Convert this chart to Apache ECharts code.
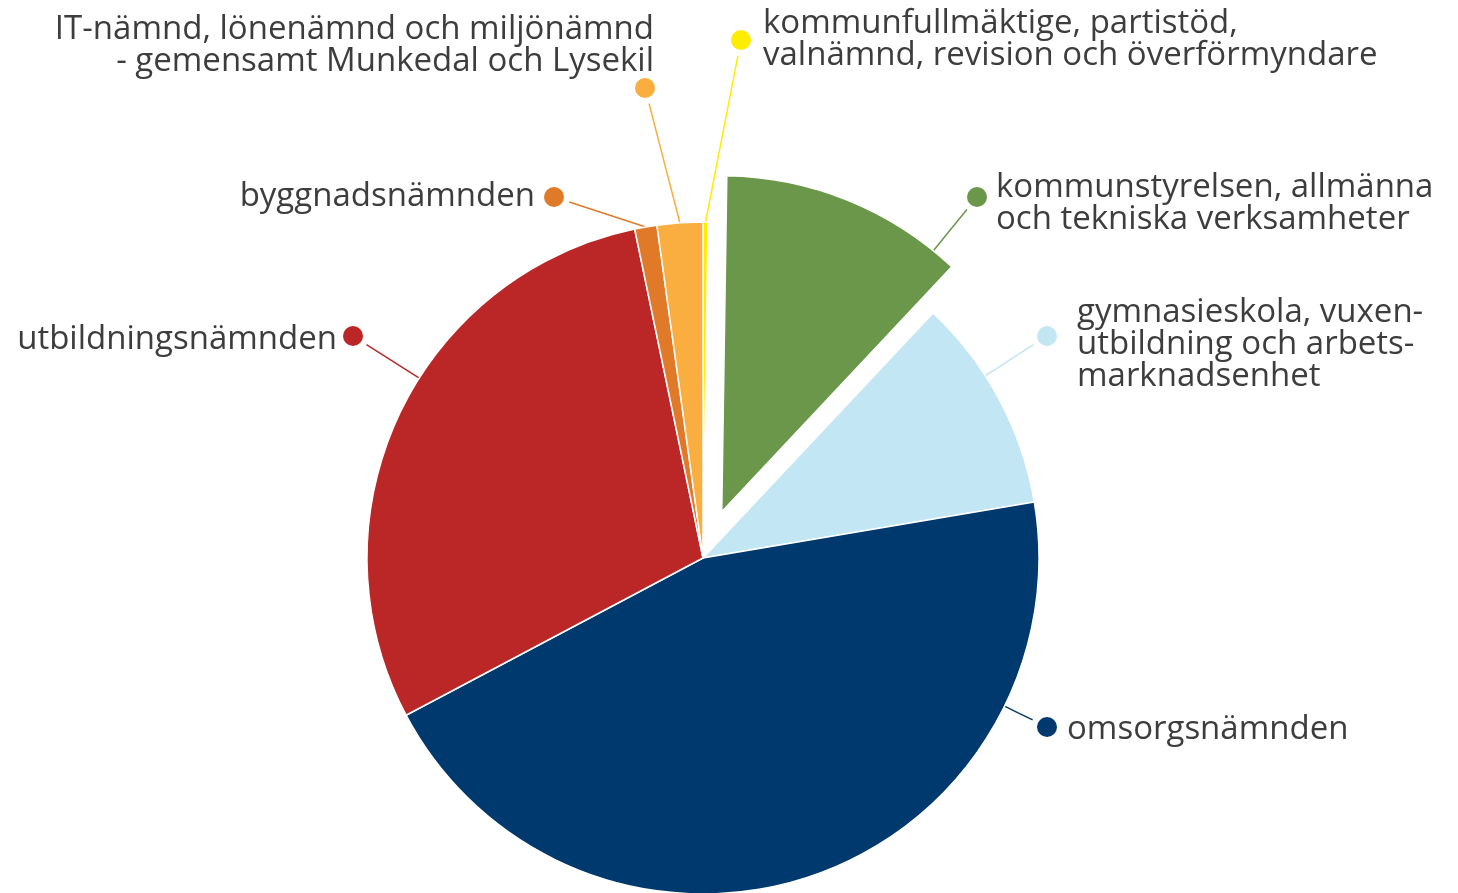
<!DOCTYPE html>
<html>
<head>
<meta charset="utf-8">
<script src="https://cdn.jsdelivr.net/npm/echarts@6/dist/echarts.min.js"></script>
<style>
  html, body { margin: 0; padding: 0; background: #fff; }
  #chart { width: 1458px; height: 893px; }
</style>
</head>
<body>
<div id="chart"></div>
<script>
const categories = [
  'kommunfullmäktige, partistöd,\nvalnämnd, revision och överförmyndare',
  'kommunstyrelsen, allmänna\noch tekniska verksamheter',
  'gymnasieskola, vuxen-\nutbildning och arbets-\nmarknadsenhet',
  'omsorgsnämnden',
  'utbildningsnämnden',
  'byggnadsnämnden',
  'IT-nämnd, lönenämnd och miljönämnd\n- gemensamt Munkedal och Lysekil'
];
const values = [0.24, 11.76, 10.33, 44.92, 29.49, 1.07, 2.19];
const colors = ['#ffed00', '#6a974a', '#c2e6f3', '#00396d', '#bb2727', '#e07a28', '#f9ae3f'];
const explodedIndex = 1;

// label placement: dot centre, text anchor and text side
const dotPos = [[741, 40], [977, 197], [1047, 336], [1047, 727], [353, 336], [554, 197], [645, 88]];
const textPos = [[763, 40], [996, 204], [1077, 345], [1067, 730], [337, 340], [535, 197], [654, 46]];
const textAlign = ['left', 'left', 'left', 'left', 'right', 'right', 'right'];

const center = [703, 558];
const radius = 336;
const explodeOffset = 50;
const dotRadius = 10;
const lineGap = 6;

const total = values.reduce((a, b) => a + b, 0);
const sliceAngles = [];
let acc = 0;
values.forEach((v) => {
  const a0 = acc / total * 360;
  acc += v;
  sliceAngles.push([a0, acc / total * 360]);
});

function polar(c, r, deg) {
  const rad = deg * Math.PI / 180;
  return [c[0] + r * Math.sin(rad), c[1] - r * Math.cos(rad)];
}

function sliceCenter(i) {
  if (i !== explodedIndex) return center;
  const mid = (sliceAngles[i][0] + sliceAngles[i][1]) / 2;
  return polar(center, explodeOffset, mid);
}

function leaderLine(i) {
  const a0 = sliceAngles[i][0];
  const a1 = sliceAngles[i][1];
  const c = sliceCenter(i);
  const dot = dotPos[i];
  let ang = (a0 + a1) / 2;
  if (a1 - a0 > 10) {
    ang = Math.atan2(dot[0] - c[0], c[1] - dot[1]) * 180 / Math.PI;
    if (ang < 0) ang += 360;
    ang = Math.min(Math.max(ang, a0 + 2), a1 - 2);
  }
  const start = polar(c, radius, ang);
  const dx = dot[0] - start[0];
  const dy = dot[1] - start[1];
  const len = Math.sqrt(dx * dx + dy * dy);
  const k = (len - dotRadius - lineGap) / len;
  const end = [start[0] + dx * k, start[1] + dy * k];
  const mid = [(start[0] + end[0]) / 2, (start[1] + end[1]) / 2];
  return [start, mid, end];
}

function placeLabel(params) {
  const i = params.dataIndex;
  if (params.seriesIndex === 0) {
    return {
      x: dotPos[i][0],
      y: dotPos[i][1],
      align: 'center',
      verticalAlign: 'middle',
      labelLinePoints: leaderLine(i)
    };
  }
  return { x: textPos[i][0], y: textPos[i][1], align: textAlign[i], verticalAlign: 'middle' };
}

const dotRich = {};
colors.forEach((c, i) => {
  dotRich['c' + i] = { width: dotRadius * 2, height: dotRadius * 2, borderRadius: dotRadius, backgroundColor: c };
});

const chart = echarts.init(document.getElementById('chart'));
chart.setOption({
  animation: false,
  backgroundColor: '#fff',
  series: [
    {
      type: 'pie',
      center: center,
      radius: radius,
      startAngle: 90,
      clockwise: true,
      avoidLabelOverlap: false,
      silent: true,
      itemStyle: { borderColor: '#fff', borderWidth: 1.5 },
      label: {
        show: true,
        position: 'outside',
        formatter: (p) => '{c' + p.dataIndex + '|}',
        rich: dotRich
      },
      labelLine: { show: true, length: 10, length2: 10, lineStyle: { width: 1.5 } },
      labelLayout: placeLabel,
      data: values.map((v, i) => ({
        name: categories[i],
        value: v,
        itemStyle: i === explodedIndex ? { color: 'transparent', borderWidth: 0 } : { color: colors[i] },
        labelLine: { lineStyle: { color: colors[i] } }
      }))
    },
    {
      type: 'pie',
      center: sliceCenter(explodedIndex),
      radius: radius,
      startAngle: 90,
      clockwise: true,
      avoidLabelOverlap: false,
      silent: true,
      itemStyle: { borderColor: '#fff', borderWidth: 1.5 },
      label: {
        show: true,
        position: 'outside',
        formatter: (p) => categories[p.dataIndex],
        color: '#3d3d3d',
        fontFamily: 'Open Sans',
        fontWeight: 500,
        fontSize: 33,
        lineHeight: 32,
        overflow: 'none'
      },
      labelLine: { show: false },
      labelLayout: placeLabel,
      data: values.map((v, i) => ({
        name: categories[i],
        value: v,
        itemStyle: i === explodedIndex ? { color: colors[i] } : { color: 'transparent', borderWidth: 0 }
      }))
    }
  ]
});
</script>
</body>
</html>
